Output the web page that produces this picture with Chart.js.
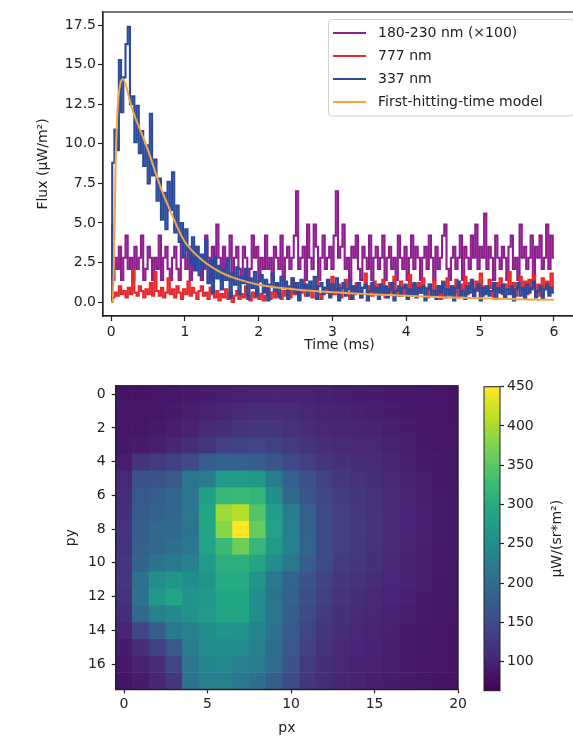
<!DOCTYPE html>
<html><head><meta charset="utf-8">
<script src="https://cdn.jsdelivr.net/npm/chart.js@4/dist/chart.umd.min.js"></script>
<style>
html,body{margin:0;padding:0;background:#fff;overflow:hidden;width:573px;height:738px;position:relative;}
canvas{position:absolute;}
#c1{left:0;top:0;}
#c2{left:0;top:370px;}
#c3{left:470px;top:370px;}
</style></head><body>
<canvas id="c1" width="580" height="370"></canvas>
<canvas id="c2" width="470" height="368"></canvas>
<canvas id="c3" width="103" height="368"></canvas>
<script>
// ---------------- DATA: time series (sampled every TIME_STEP ms from t = 0) ----------------
const TIME_STEP = 0.03;
const seriesLabels = ['180-230 nm (×100)', '777 nm', '337 nm', 'First-hitting-time model'];
const purple = [
  4.9,1.4,2.8,2.1,3.5,1.4,2.8,4.2,2.1,2.8,
  1.4,3.5,2.1,2.8,4.2,1.4,2.1,3.5,2.8,1.4,
  2.8,2.1,4.2,1.4,2.8,3.5,2.1,1.4,2.8,3.5,
  2.1,1.4,4.2,2.8,2.1,3.5,1.4,2.8,2.1,3.5,
  2.8,1.4,2.1,4.2,2.8,1.4,3.5,2.1,4.9,2.8,
  1.4,3.5,2.1,2.8,4.2,1.4,2.8,3.5,2.1,1.4,
  3.5,2.8,1.4,2.1,4.2,2.8,3.5,1.4,2.8,2.1,
  4.2,2.1,2.8,1.4,3.5,2.8,2.1,4.2,1.4,2.8,
  3.5,2.1,2.8,4.2,7.0,2.1,2.8,3.5,1.4,4.9,
  2.8,2.1,4.9,3.5,1.4,2.8,4.2,2.1,2.8,3.5,
  2.1,4.2,7.0,2.8,3.5,4.9,2.1,2.8,1.4,3.5,
  2.8,4.2,2.1,1.4,3.5,2.8,2.1,4.2,1.4,2.8,
  3.5,2.1,2.8,4.2,1.4,2.8,3.5,2.1,2.8,1.4,
  4.2,2.8,2.1,3.5,1.4,2.8,4.2,2.1,3.5,2.8,
  1.4,2.8,3.5,2.1,4.2,2.8,1.4,3.5,2.1,2.8,
  4.2,4.9,2.1,1.4,2.8,3.5,2.1,2.8,4.2,1.4,
  3.5,2.8,2.1,4.2,2.8,4.9,2.1,3.5,2.8,5.6,
  2.1,3.5,2.8,1.4,4.2,2.8,2.1,3.5,2.8,1.4,
  3.5,4.2,2.1,2.8,1.4,4.9,2.8,3.5,2.1,2.8,
  4.2,1.4,3.5,2.8,4.2,2.1,2.8,4.9,2.1,4.2,
  2.8
];
const red = [
  0,0.3,0.6,0.4,1.0,0.5,0.7,0.3,0.9,0.5,
  2.0,0.6,0.4,1.0,0.7,0.3,0.8,0.5,1.2,0.4,
  1.9,0.7,0.4,0.9,0.3,0.6,1.5,0.5,0.8,0.3,
  1.0,0.6,0.2,0.8,0.5,1.3,0.4,0.9,0.6,0.2,
  0.7,1.0,0.4,0.6,0.2,0.9,0.5,0.3,0.7,0.1,
  0.5,0.3,0.8,0.2,0.6,0.0,0.4,0.7,0.2,0.5,
  0.3,1.0,0.4,0.1,0.6,0.3,0.8,0.2,0.5,0.1,
  0.4,0.9,0.2,0.6,0.3,1.1,0.5,0.2,0.7,0.4,
  0.8,0.3,1.5,0.5,0.9,0.2,0.6,1.3,0.4,0.7,
  1.0,0.3,0.8,1.4,0.5,0.2,0.9,0.6,1.2,0.4,
  1.6,0.5,0.8,1.1,0.3,0.9,1.4,0.6,0.2,1.0,
  0.5,1.2,0.7,0.3,0.9,1.8,0.6,1.0,0.4,1.3,
  0.7,1.1,0.5,1.4,0.3,0.9,1.2,0.6,1.6,0.4,
  0.8,1.3,0.5,1.0,0.3,1.7,0.7,1.1,0.4,1.2,
  0.6,1.5,0.9,0.3,1.1,0.7,1.4,0.5,1.0,0.2,
  1.3,0.8,1.5,0.4,1.0,0.6,1.4,0.3,1.1,0.8,
  1.6,0.5,1.2,0.9,0.3,1.3,0.7,1.8,0.4,1.0,
  0.6,1.4,0.9,0.3,1.2,0.7,1.5,0.5,1.1,0.8,
  1.9,0.6,1.2,0.4,1.0,1.6,0.7,1.3,0.5,1.4,
  0.8,1.7,0.6,1.1,0.4,1.5,0.9,1.3,0.6,1.8,
  1.0
];
const blue = [
  0,8.8,10.9,9.6,15.3,12.0,14.2,16.3,17.4,12.5,
  13.0,10.1,12.4,9.4,10.8,8.6,9.9,7.5,11.9,8.0,
  9.0,6.4,7.8,5.2,6.9,4.6,7.6,5.8,8.2,4.4,
  6.1,3.8,5.0,2.9,4.6,3.3,2.4,4.1,2.0,3.5,
  1.7,3.0,2.2,3.9,1.2,2.6,0.6,2.9,1.5,2.3,
  0.8,2.0,1.4,2.7,0.3,1.8,1.1,2.2,0.5,1.6,
  1.2,2.1,0.2,1.5,0.9,1.9,0.4,1.3,1.7,0.6,
  1.4,0.1,1.1,1.8,0.7,1.2,0.3,1.6,0.9,1.3,
  0.2,1.0,1.5,0.6,1.2,0.1,1.4,0.8,1.1,0.4,
  1.3,0.7,1.6,0.2,1.0,1.2,0.5,0.9,1.4,0.3,
  1.1,0.6,1.5,0.1,0.9,1.2,0.4,0.8,1.3,0.2,
  1.0,0.6,1.2,0.3,0.9,1.1,0.1,0.7,1.2,0.5,
  0.9,0.2,1.1,0.6,1.0,0.3,0.8,1.2,0.1,0.7,
  1.0,0.4,0.9,1.1,0.2,0.8,0.5,1.2,0.3,0.9,
  0.6,1.0,0.1,0.8,1.1,0.4,0.7,0.2,1.0,0.6,
  1.2,0.3,0.8,0.5,1.0,0.1,0.9,1.3,0.4,0.7,
  0.2,1.0,0.6,1.4,0.3,0.8,1.1,0.1,0.9,0.5,
  1.0,0.4,0.7,1.2,0.2,0.9,0.6,1.1,0.3,0.8,
  0.5,1.0,0.1,0.8,1.2,0.4,0.9,0.2,1.1,0.6,
  0.9,1.3,0.3,0.7,1.0,0.2,0.8,1.1,0.4,0.9,
  0.6
];
const modelTime = [0,0.02,0.04,0.06,0.08,0.1,0.13,0.16,0.2,0.25,0.3,0.4,0.5,0.6,0.7,0.8,0.9,1.0,1.25,1.5,1.75,2.0,2.5,3.0,3.5,4.0,4.5,5.0,5.5,6.0];
const modelFlux = [0,0,3.0,8.5,11.5,13.0,13.9,14.1,13.7,12.8,12.0,10.8,9.6,8.2,6.9,5.8,4.7,3.8,2.6,1.85,1.4,1.1,0.8,0.62,0.5,0.4,0.31,0.24,0.18,0.14];
const timeTicks = [0,1,2,3,4,5,6];
const fluxTicks = [0,2.5,5,7.5,10,12.5,15,17.5];

// ---------------- DATA: image (rows py = 0..17, columns px = 0..20), µW/(sr*m²) ----------------
const pxIndex = [0,1,2,3,4,5,6,7,8,9,10,11,12,13,14,15,16,17,18,19,20];
const pyIndex = [0,1,2,3,4,5,6,7,8,9,10,11,12,13,14,15,16,17];
const radiance = [
  [84,84,85,87,89,92,95,98,101,102,101,99,97,95,93,92,90,88,86,85,84],
  [85,85,87,90,94,98,103,108,112,112,110,106,102,99,97,95,93,90,87,85,84],
  [86,87,90,95,101,108,114,120,124,123,118,112,107,104,102,100,96,92,88,86,85],
  [88,91,96,103,112,122,132,138,140,136,128,120,114,110,108,105,100,94,90,87,85],
  [94,120,128,134,150,178,182,180,176,165,148,134,122,116,113,110,104,97,92,89,87],
  [106,160,162,170,215,222,272,275,270,222,182,158,138,124,118,114,108,100,94,90,88],
  [112,168,176,188,215,280,318,322,316,255,198,166,145,131,124,118,110,102,96,92,89],
  [115,172,184,190,220,290,395,408,345,278,226,180,150,134,126,119,111,103,97,93,90],
  [117,175,198,195,212,290,380,450,358,284,232,184,152,135,127,120,111,103,97,93,90],
  [119,180,195,204,216,285,325,365,318,274,230,187,152,134,126,119,110,102,96,92,89],
  [122,185,212,220,234,275,308,308,288,248,216,178,150,131,123,116,108,101,95,91,88],
  [123,205,250,262,252,264,300,300,264,216,188,160,139,124,118,111,105,99,94,90,87],
  [119,210,265,288,258,268,294,294,248,210,182,156,135,120,113,108,103,97,93,89,86],
  [113,195,232,242,258,272,290,290,252,214,178,150,129,116,109,105,100,95,91,88,85],
  [103,142,175,218,232,252,262,258,238,210,172,142,124,112,106,102,98,93,90,87,84],
  [93,114,136,168,222,248,252,248,232,204,168,136,118,108,103,100,96,92,89,86,84],
  [87,98,114,142,215,238,242,228,222,200,160,129,114,106,101,98,95,91,88,85,83],
  [84,91,103,125,210,228,232,218,206,178,150,124,112,104,99,96,93,90,87,84,82]
];
const pxTicks = [0,5,10,15,20];
const pyTicks = [0,2,4,6,8,10,12,14,16];
const COLOR_MIN = 63, COLOR_MAX = 450;
const cbarTicks = [100,150,200,250,300,350,400,450];

// ---------------- styling ----------------
const FONT = 'DejaVu Sans';
Chart.defaults.font.family = FONT;
Chart.defaults.font.size = 14;
Chart.defaults.color = '#222';
const INK = '#222';
const VIRIDIS = ['#440154','#482475','#414487','#355f8d','#2a788e','#21918c','#22a884','#44bf70','#7ad151','#bddf26','#fde725'];
function hexRgb(h){return [parseInt(h.slice(1,3),16),parseInt(h.slice(3,5),16),parseInt(h.slice(5,7),16)];}
function viridis(t){
  t = Math.max(0, Math.min(1, t));
  const f = t*(VIRIDIS.length-1), i = Math.min(Math.floor(f), VIRIDIS.length-2), u = f-i;
  const a = hexRgb(VIRIDIS[i]), b = hexRgb(VIRIDIS[i+1]);
  return 'rgb(' + a.map((v,k)=>Math.round(v+(b[k]-v)*u)).join(',') + ')';
}
const colorFor = v => viridis((v-COLOR_MIN)/(COLOR_MAX-COLOR_MIN));

function axisCommon(ticksArr, fmt, tickLen, pad){
  return {
    offset:false,
    afterBuildTicks: s => { s.ticks = ticksArr.map(v => ({value:v})); },
    ticks:{ callback: fmt, padding: pad, color: INK, font:{size:14}, maxRotation:0, autoSkip:false },
    grid:{ display:true, drawOnChartArea:false, drawTicks:true, tickLength:tickLen, tickColor:INK, tickWidth:1.2, offset:false },
    border:{ display:true, color:INK, width:1.2 }
  };
}
const framePlugin = {
  id:'frame',
  afterDatasetsDraw(chart){
    const a = chart.chartArea, c = chart.ctx;
    c.save(); c.strokeStyle = INK; c.lineWidth = 1.2;
    c.strokeRect(a.left, a.top, a.right-a.left, a.bottom-a.top);
    c.restore();
  }
};

// ---------------- top chart ----------------
const tAxis = purple.map((_, i) => +(i*TIME_STEP).toFixed(2));
const toXY = arr => arr.map((v,i) => ({x: tAxis[i], y: v}));
const seriesColors = ['#8e1e8e', '#e8282c', '#2a4a9e', '#f4a640'];

const legendPlugin = {
  id:'boxLegend',
  afterDraw(chart){
    const c = chart.ctx;
    const x0 = 328.5, y0 = 19.5, w = 245, h = 96.5;
    c.save();
    c.fillStyle = 'rgba(255,255,255,0.85)';
    c.strokeStyle = '#d0d0d0'; c.lineWidth = 1;
    c.beginPath();
    if (c.roundRect) c.roundRect(x0, y0, w, h, 3); else c.rect(x0, y0, w, h);
    c.fill(); c.stroke();
    c.font = '14px "' + FONT + '"'; c.textBaseline = 'middle'; c.fillStyle = INK;
    chart.data.datasets.forEach((ds, i) => {
      const y = 33 + i*23;
      c.strokeStyle = ds.borderColor; c.lineWidth = 2;
      c.beginPath(); c.moveTo(333, y); c.lineTo(366, y); c.stroke();
      c.fillText(ds.label, 378, y);
    });
    c.restore();
  }
};

new Chart(document.getElementById('c1'), {
  type:'line',
  data:{ datasets:[
    {label:seriesLabels[0], data:toXY(purple), borderColor:seriesColors[0], borderWidth:2.1, stepped:'middle', order:4},
    {label:seriesLabels[1], data:toXY(red), borderColor:seriesColors[1], borderWidth:2.1, stepped:'middle', order:3},
    {label:seriesLabels[2], data:toXY(blue), borderColor:seriesColors[2], borderWidth:2.1, stepped:'middle', order:2},
    {label:seriesLabels[3], data:modelTime.map((t,i)=>({x:t, y:modelFlux[i]})), borderColor:seriesColors[3], borderWidth:2, cubicInterpolationMode:'monotone', order:1}
  ]},
  options:{
    responsive:false, animation:false, devicePixelRatio:1,
    elements:{ point:{radius:0}, line:{tension:0} },
    layout:{ padding:{left:0, top:12, right:4, bottom:0} },
    plugins:{ legend:{display:false}, tooltip:{enabled:false} },
    scales:{
      x: Object.assign(axisCommon(timeTicks, v => String(v), 5, 3), {
        type:'linear', min:-0.11, max:6.3,
        title:{display:true, text:'Time (ms)', color:INK, font:{size:14}, padding:{top:0, bottom:16.6}},
        afterFit: s => { s.height = 54; }
      }),
      y: Object.assign(axisCommon(fluxTicks, v => v.toFixed(1), 5, 2), {
        type:'linear', min:-0.88, max:18.33,
        title:{display:true, text:'Flux (μW/m²)', color:INK, font:{size:14}, padding:{top:34.6, bottom:0}},
        afterFit: s => { s.width = 103; }
      })
    }
  },
  plugins:[framePlugin, legendPlugin]
});

// ---------------- heatmap ----------------
new Chart(document.getElementById('c2'), {
  type:'bar',
  data:{ datasets: radiance.map((row, r) => ({
    data: row.map((v, c) => ({x: pxIndex[c], y: [pyIndex[r]-0.5, pyIndex[r]+0.5]})),
    backgroundColor: row.map(colorFor),
    borderWidth:0, grouped:false, barPercentage:1, categoryPercentage:1
  }))},
  options:{
    responsive:false, animation:false, devicePixelRatio:1,
    layout:{ padding:{left:0, top:15.7, right:8.5, bottom:0} },
    plugins:{ legend:{display:false}, tooltip:{enabled:false} },
    scales:{
      x: Object.assign(axisCommon(pxTicks, v => String(v), 4, 3), {
        type:'linear', min:-0.5, max:20,
        title:{display:true, text:'px', color:INK, font:{size:14}, padding:{top:0, bottom:1.6}},
        afterFit: s => { s.height = 48.6; }
      }),
      y: Object.assign(axisCommon(pyTicks, v => String(v), 4, 6), {
        type:'linear', min:-0.5, max:17.5, reverse:true,
        title:{display:true, text:'py', color:INK, font:{size:14}, padding:{top:62.6, bottom:0}},
        afterFit: s => { s.width = 115.7; }
      })
    }
  },
  plugins:[framePlugin]
});

// ---------------- colorbar ----------------
const cbarPlugin = {
  id:'cbar',
  beforeDatasetsDraw(chart){
    const a = chart.chartArea, c = chart.ctx, ys = chart.scales.y;
    const yLo = ys.getPixelForValue(COLOR_MIN), yHi = ys.getPixelForValue(COLOR_MAX);
    const g = c.createLinearGradient(0, yLo, 0, yHi);
    VIRIDIS.forEach((col, i) => g.addColorStop(i/(VIRIDIS.length-1), col));
    c.save(); c.fillStyle = g; c.fillRect(a.left, yHi, a.right-a.left, yLo-yHi);
    c.strokeStyle = INK; c.lineWidth = 1; c.strokeRect(a.left, yHi, a.right-a.left, yLo-yHi);
    c.translate(87, (a.top+a.bottom)/2); c.rotate(-Math.PI/2);
    c.font = '14px "' + FONT + '"'; c.fillStyle = INK; c.textAlign = 'center'; c.textBaseline = 'middle';
    c.fillText('μW/(sr*m²)', 0, 0);
    c.restore();
  }
};
new Chart(document.getElementById('c3'), {
  type:'scatter',
  data:{ datasets:[{data:[]}] },
  options:{
    responsive:false, animation:false, devicePixelRatio:1,
    layout:{ padding:{left:14, top:16.7, right:0, bottom:47.3} },
    plugins:{ legend:{display:false}, tooltip:{enabled:false} },
    scales:{
      x:{ type:'linear', display:false, min:0, max:1 },
      y: Object.assign(axisCommon(cbarTicks, v => String(v), 4, 3), {
        type:'linear', position:'right', min:COLOR_MIN, max:COLOR_MAX,
        border:{display:false},
        afterFit: s => { s.width = 73; }
      })
    }
  },
  plugins:[cbarPlugin]
});
</script>
</body></html>
